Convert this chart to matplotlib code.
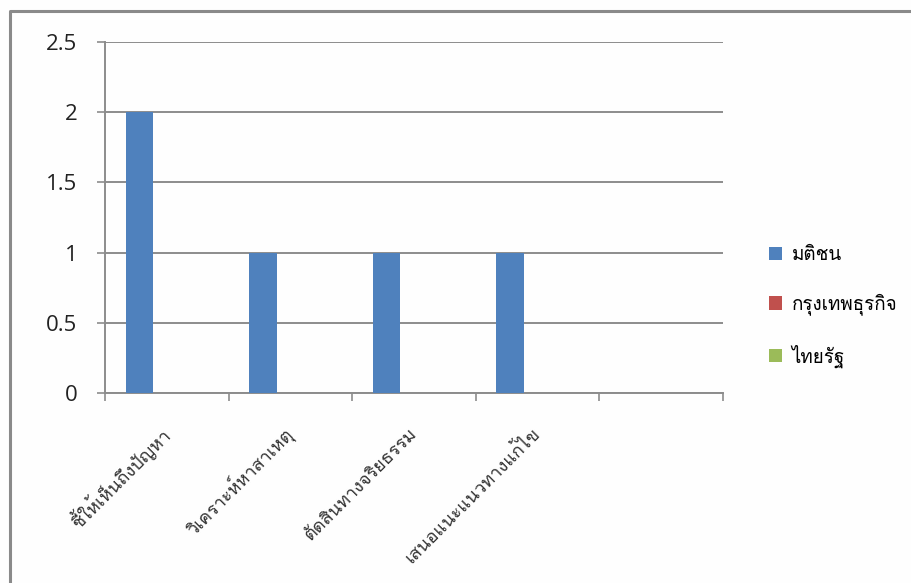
import numpy as np
import matplotlib
matplotlib.use('Agg')
import matplotlib.pyplot as plt
from matplotlib import font_manager
from matplotlib.ft2font import FT2Font
from matplotlib.lines import Line2D

categorias = ['ชี้ให้เห็นถึงปัญหา', 'วิเคราะห์หาสาเหตุ', 'ตัดสินทางจริยธรรม', 'เสนอแนะแนวทางแก้ไข', '']
series = ['มติชน', 'กรุงเทพธุรกิจ', 'ไทยรัฐ']
matichon = [2, 1, 1, 1, 0]
krungthep = [0, 0, 0, 0, 0]
thairath = [0, 0, 0, 0, 0]
cores = ['#4F81BD', '#C0504D', '#9BBB59']
yticks = [0, 0.5, 1, 1.5, 2, 2.5]


def fonte_tailandesa():
    # procura uma fonte instalada que tenha o alfabeto tailandês
    for f in font_manager.fontManager.ttflist:
        try:
            if FT2Font(f.fname).get_char_index(0x0E01):
                return f.name
        except Exception:
            pass
    return 'DejaVu Sans'


thai = fonte_tailandesa()
plt.rcParams['font.family'] = [thai, 'Open Sans', 'DejaVu Sans']

fig = plt.figure(figsize=(9.11, 5.83), dpi=100)
fig.patch.set_facecolor('#fefefe')
ax = fig.add_axes([105 / 911, 1 - 393 / 583, (723 - 105) / 911, (393 - 42) / 583])
ax.set_facecolor('none')

x = np.arange(len(categorias))
w = 1 / 4.5
for i, (nome, vals) in enumerate(zip(series, [matichon, krungthep, thairath])):
    ax.bar(x + (i - 1) * w, vals, w, color=cores[i], label=nome, zorder=3)

ax.set_xlim(-0.5, len(categorias) - 0.5)
ax.set_ylim(0, 2.5)
ax.set_yticks(yticks)
ax.set_yticklabels(['0', '0.5', '1', '1.5', '2', '2.5'], family=['Open Sans', 'DejaVu Sans'])
ax.yaxis.grid(True, color='#8c8c8c', linewidth=1.4, zorder=0)
ax.tick_params(axis='y', length=6, width=1.2, color='#8c8c8c', labelsize=16,
               labelcolor='#222222', pad=14)

# marcas do eixo x nos limites das categorias
ax.set_xticks(np.arange(len(categorias) + 1) - 0.5)
ax.set_xticklabels([])
ax.tick_params(axis='x', length=6, width=1.2, color='#8c8c8c')
for xi, rot in zip(x, categorias):
    ax.annotate(rot, (xi, 0), xytext=(0, -27), textcoords='offset points',
                rotation=45, ha='right', va='center', rotation_mode='anchor',
                fontsize=13, color='#333333')

for lado in ['top', 'right']:
    ax.spines[lado].set_visible(False)
for lado in ['left', 'bottom']:
    ax.spines[lado].set_color('#8c8c8c')
    ax.spines[lado].set_linewidth(1.4)

ax.legend(loc='center left', bbox_to_anchor=(769 / 911, 1 - 307 / 583),
          bbox_transform=fig.transFigure, frameon=False, fontsize=13.5,
          handlelength=0.7, handleheight=0.7, handletextpad=0.5, labelspacing=1.55,
          borderaxespad=0, borderpad=0)

# moldura cinza do quadro
fig.add_artist(Line2D([10 / 911, 10 / 911, 1], [0, 1 - 11 / 583, 1 - 11 / 583],
                      transform=fig.transFigure, color='#8a8a8a', linewidth=2.2))

fig.savefig('out.png', dpi=100, facecolor=fig.get_facecolor())
